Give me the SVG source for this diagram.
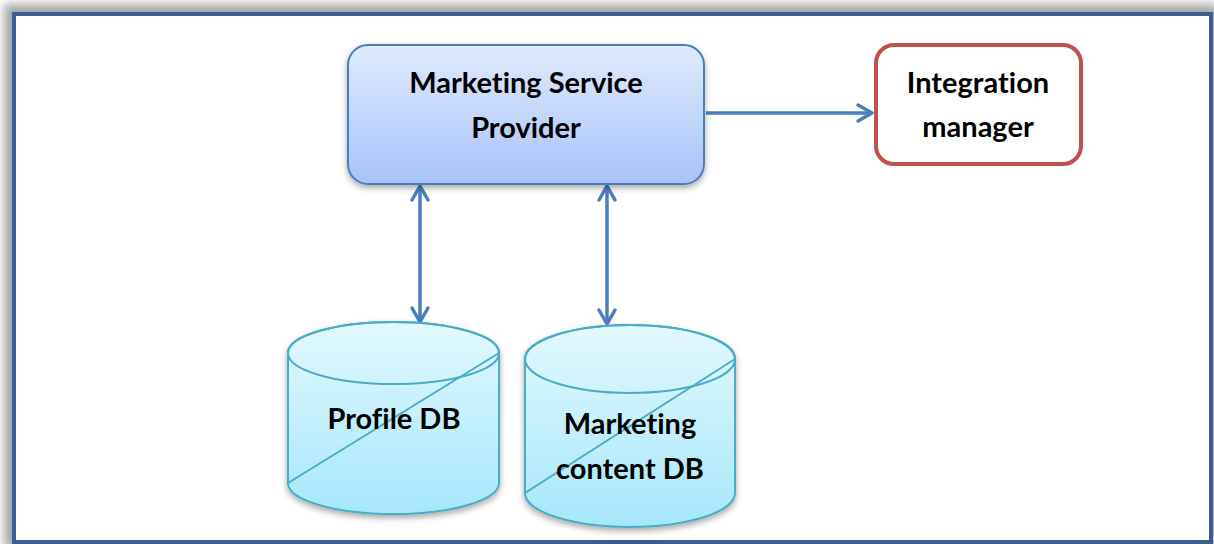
<svg xmlns="http://www.w3.org/2000/svg" width="1214" height="544" viewBox="0 0 1214 544">
  <defs>
    <linearGradient id="gBox" x1="0" y1="0" x2="0" y2="1">
      <stop offset="0" stop-color="#e0eafc"/>
      <stop offset="1" stop-color="#a7c3f9"/>
    </linearGradient>
    <linearGradient id="gCyl" x1="0" y1="0" x2="0" y2="1">
      <stop offset="0" stop-color="#e2f8fd"/>
      <stop offset="1" stop-color="#a5e8fb"/>
    </linearGradient>
    <filter id="frameShadow" x="-5%" y="-5%" width="110%" height="110%">
      <feGaussianBlur stdDeviation="5"/>
    </filter>
    <filter id="shadow" x="-10%" y="-10%" width="120%" height="130%">
      <feDropShadow dx="0" dy="3" stdDeviation="3" flood-color="#000" flood-opacity="0.35"/>
    </filter>
    <marker id="arrow" viewBox="0 0 20 20" refX="18" refY="10" markerWidth="20" markerHeight="20" markerUnits="userSpaceOnUse" orient="auto-start-reverse" overflow="visible">
      <path d="M4,2 L18,10 L4,18" fill="none" stroke="#4a7ebb" stroke-width="3.5" stroke-linecap="round" stroke-linejoin="round"/>
    </marker>
  </defs>
  <style>
    .lbl { font-family: "Lato", "Open Sans", "Liberation Sans", sans-serif; font-weight: bold; font-size: 29px; fill: #000; text-anchor: middle; font-variant-ligatures: none; }
    .conn { fill: none; stroke: #4a7ebb; stroke-width: 3.5; }
    .cyl { fill: url(#gCyl); stroke: #4bacc6; stroke-width: 2; }
  </style>

  <!-- page background and framed panel -->
  <rect x="0" y="0" width="1214" height="544" fill="#ffffff"/>
  <rect x="4" y="4" width="1214" height="544" fill="#a6a6a6" filter="url(#frameShadow)"/>
  <rect id="frame" x="14" y="14" width="1197" height="528" fill="#ffffff" stroke="#3b5e8c" stroke-width="4"/>

  <!-- connectors -->
  <g id="connectors">
    <line class="conn" x1="706" y1="113" x2="872" y2="113" marker-end="url(#arrow)"/>
    <line class="conn" x1="420" y1="186" x2="420" y2="322" marker-start="url(#arrow)" marker-end="url(#arrow)"/>
    <line class="conn" x1="607" y1="186" x2="607" y2="324" marker-start="url(#arrow)" marker-end="url(#arrow)"/>
  </g>

  <g id="msp">
    <rect x="348" y="45" width="356" height="139" rx="20" fill="url(#gBox)" stroke="#4a7ebb" stroke-width="2" filter="url(#shadow)"/>
    <text class="lbl" x="526" y="93">Marketing Service</text>
    <text class="lbl" x="526" y="138">Provider</text>
  </g>

  <g id="integration-manager">
    <rect x="876" y="45" width="205" height="119" rx="18" fill="#ffffff" stroke="#c0504d" stroke-width="4"/>
    <text class="lbl" x="978" y="93">Integration</text>
    <text class="lbl" x="978" y="137">manager</text>
  </g>

  <g id="profile-db">
    <path class="cyl" filter="url(#shadow)" d="M288,353 A105.5,31 0 0 1 499,353 L499,483 A105.5,31 0 0 1 288,483 Z"/>
    <ellipse cx="393.5" cy="353" rx="105.5" ry="31" fill="none" stroke="#4bacc6" stroke-width="2"/>
    <line x1="288" y1="483" x2="499" y2="353" stroke="#4bacc6" stroke-width="2"/>
    <text class="lbl" x="394" y="429">Profile DB</text>
  </g>

  <g id="marketing-content-db">
    <path class="cyl" filter="url(#shadow)" d="M525,359 A105,34 0 0 1 735,359 L735,493 A105,34 0 0 1 525,493 Z"/>
    <ellipse cx="630" cy="359" rx="105" ry="34" fill="none" stroke="#4bacc6" stroke-width="2"/>
    <line x1="525" y1="493" x2="735" y2="359" stroke="#4bacc6" stroke-width="2"/>
    <text class="lbl" x="630" y="434">Marketing</text>
    <text class="lbl" x="630" y="479">content DB</text>
  </g>
</svg>
